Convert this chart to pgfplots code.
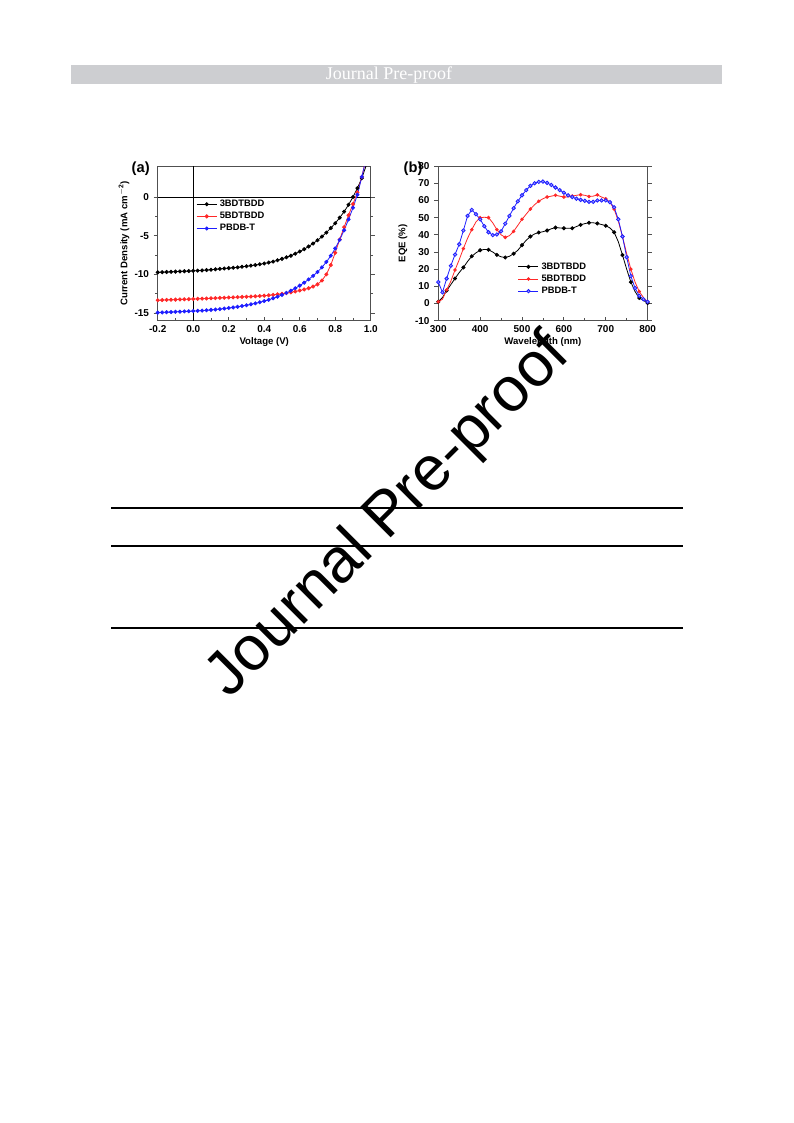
\documentclass[border=0pt]{standalone}
\usepackage{fontspec}
\setmainfont{Liberation Sans}
\newfontfamily\serifrm{Liberation Serif}
\usepackage{pgfplots}
\pgfplotsset{compat=1.18}
\definecolor{hdr}{RGB}{205,206,209}
\definecolor{axgray}{RGB}{80,80,80}
\definecolor{cred}{RGB}{255,40,40}
\definecolor{cblue}{RGB}{30,30,255}
\pgfplotsset{
  common/.style={
    scale only axis,
    axis line style={axgray, line width=0.8pt},
    every tick/.style={axgray, line width=0.6pt},
    /pgf/number format/assume math mode=true,
    tick label style={font=\fontsize{7.5}{8}\selectfont\bfseries},
    label style={font=\fontsize{7.2}{8}\selectfont\bfseries},
    xtick pos=bottom, ytick pos=both,
    xtick align=inside, ytick align=outside,
    major tick length=3pt, minor tick length=1.8pt,
    minor x tick num=1, minor y tick num=1,
    legend cell align=left,
    legend style={draw=none, fill=none, font=\fontsize{7}{8}\selectfont\bfseries,
      inner sep=0pt, row sep=-1.2pt},
    legend image code/.code={\draw[mark repeat=2,mark phase=2,#1] plot coordinates {(0pt,0pt) (7.5pt,0pt) (15pt,0pt)};},
  }
}
\begin{document}
\begin{tikzpicture}
\fill[white] (0pt,0pt) rectangle (594.75pt,842.25pt);
% header bar
\fill[hdr] (53.25pt,793.5pt) rectangle (541.5pt,779.25pt);
\node[white, font=\serifrm\fontsize{13.5}{14}\selectfont] at (291.75pt,786pt) {Journal Pre-proof};
% table rules
\draw[line width=1.3pt] (83.25pt,461.25pt) -- (512.25pt,461.25pt);
\draw[line width=1pt] (83.25pt,432.75pt) -- (512.25pt,432.75pt);
\draw[line width=1pt] (83.25pt,371.25pt) -- (512.25pt,371.25pt);

% chart (a)
\begin{axis}[common,
  at={(118.3pt,601.7pt)}, anchor=south west,
  width=159.75pt, height=116pt,
  xmin=-0.2, xmax=1.0, ymin=-16, ymax=4,
  xtick={-0.2,0,0.2,0.4,0.6,0.8,1.0},
  ytick={-15,-10,-5,0},
  xticklabel style={/pgf/number format/.cd, fixed, fixed zerofill, precision=1},
  xlabel={Voltage (V)}, ylabel={Current Density (mA cm$^{\mathbf{-2}}$)},
  xlabel style={yshift=3pt}, ylabel style={yshift=-3pt},
  legend style={at={(0.18,0.8)}, anchor=north west},
]
\addplot[black, line width=0.6pt, forget plot] coordinates {(-0.2,0) (1.0,0)};
\addplot[black, line width=0.6pt, forget plot] coordinates {(0,-16) (0,4)};
\addplot[black, line width=0.6pt, mark=*, mark size=1.2pt] coordinates {
(-0.2,-9.75) (-0.175,-9.73) (-0.15,-9.70) (-0.125,-9.68) (-0.1,-9.65) (-0.075,-9.63) (-0.05,-9.60) (-0.025,-9.58)
(0,-9.55) (0.025,-9.52) (0.05,-9.50) (0.075,-9.45) (0.1,-9.40) (0.125,-9.35) (0.15,-9.30) (0.175,-9.25)
(0.2,-9.20) (0.225,-9.15) (0.25,-9.10) (0.275,-9.02) (0.3,-8.95) (0.325,-8.88) (0.35,-8.80) (0.375,-8.70)
(0.4,-8.60) (0.425,-8.48) (0.45,-8.35) (0.475,-8.18) (0.5,-8.00) (0.525,-7.80) (0.55,-7.60) (0.575,-7.33)
(0.6,-7.05) (0.625,-6.75) (0.65,-6.40) (0.675,-6.02) (0.7,-5.60) (0.725,-5.12) (0.75,-4.60) (0.775,-4.02)
(0.8,-3.40) (0.825,-2.68) (0.85,-1.90) (0.875,-1.00) (0.9,0.00) (0.925,1.15) (0.95,2.45) (0.975,4.10)};
\addlegendentry{3BDTBDD}
\addplot[cred, line width=0.6pt, mark=*, mark size=1.2pt] coordinates {
(-0.2,-13.35) (-0.175,-13.33) (-0.15,-13.31) (-0.125,-13.29) (-0.1,-13.27) (-0.075,-13.25) (-0.05,-13.23) (-0.025,-13.21)
(0,-13.19) (0.025,-13.17) (0.05,-13.15) (0.075,-13.13) (0.1,-13.10) (0.125,-13.08) (0.15,-13.05) (0.175,-13.03)
(0.2,-13.00) (0.225,-12.98) (0.25,-12.95) (0.275,-12.92) (0.3,-12.90) (0.325,-12.87) (0.35,-12.84) (0.375,-12.80)
(0.4,-12.76) (0.425,-12.71) (0.45,-12.66) (0.475,-12.59) (0.5,-12.52) (0.525,-12.43) (0.55,-12.33) (0.575,-12.22)
(0.6,-12.10) (0.625,-11.96) (0.65,-11.80) (0.675,-11.58) (0.7,-11.30) (0.725,-10.80) (0.75,-10.00) (0.775,-8.80)
(0.8,-7.20) (0.825,-5.50) (0.85,-3.90) (0.875,-2.35) (0.9,-0.90) (0.925,0.60) (0.95,2.60) (0.965,4.10)};
\addlegendentry{5BDTBDD}
\addplot[cblue, line width=0.6pt, mark=*, mark size=1.2pt] coordinates {
(-0.2,-14.95) (-0.175,-14.93) (-0.15,-14.90) (-0.125,-14.88) (-0.1,-14.85) (-0.075,-14.83) (-0.05,-14.80) (-0.025,-14.78)
(0,-14.75) (0.025,-14.72) (0.05,-14.69) (0.075,-14.65) (0.1,-14.60) (0.125,-14.55) (0.15,-14.50) (0.175,-14.43)
(0.2,-14.36) (0.225,-14.28) (0.25,-14.20) (0.275,-14.10) (0.3,-14.00) (0.325,-13.88) (0.35,-13.75) (0.375,-13.61)
(0.4,-13.46) (0.425,-13.29) (0.45,-13.10) (0.475,-12.89) (0.5,-12.66) (0.525,-12.40) (0.55,-12.12) (0.575,-11.80)
(0.6,-11.46) (0.625,-11.08) (0.65,-10.66) (0.675,-10.20) (0.7,-9.70) (0.725,-9.10) (0.75,-8.40) (0.775,-7.60)
(0.8,-6.65) (0.825,-5.55) (0.85,-4.30) (0.875,-2.90) (0.9,-1.40) (0.925,0.30) (0.95,2.60) (0.965,4.10)};
\addlegendentry{PBDB-T}
\end{axis}
\node[font=\fontsize{11}{12}\selectfont\bfseries, anchor=west] at (95.25pt,715.5pt) {(a)};

% chart (b)
\begin{axis}[common,
  at={(328.7pt,601.7pt)}, anchor=south west,
  width=157pt, height=116pt,
  xmin=300, xmax=800, ymin=-10, ymax=80,
  xtick={300,400,500,600,700,800},
  ytick={-10,0,10,20,30,40,50,60,70,80},
  minor y tick num=0,
  xlabel={Wavelength (nm)}, ylabel={EQE (\%)},
  xlabel style={yshift=3pt}, ylabel style={yshift=-1pt},
  legend style={at={(0.38,0.395)}, anchor=north west},
]
\addplot[black, line width=0.6pt, mark=*, mark size=1.2pt, mark repeat=2] coordinates {
(300,1.0) (310,3.5) (320,7.5) (330,11.0) (340,14.6) (350,18.0) (360,21.0) (370,24.5) (380,27.5) (390,29.5)
(400,31.0) (410,31.5) (420,31.3) (430,30.0) (440,28.3) (450,27.2) (460,26.8) (470,27.5) (480,29.0) (490,31.0)
(500,34.0) (510,36.8) (520,39.0) (530,40.5) (540,41.3) (550,41.8) (560,42.5) (570,43.5) (580,44.2) (590,44.0)
(600,43.8) (610,43.8) (620,43.8) (630,44.8) (640,45.8) (650,46.5) (660,47.0) (670,47.0) (680,46.6) (690,46.0)
(700,45.3) (710,44.0) (720,41.5) (730,36.0) (740,28.2) (750,20.0) (760,12.5) (770,7.0) (780,3.2) (790,1.8) (800,0.3)};
\addlegendentry{3BDTBDD}
\addplot[cred, line width=0.6pt, mark=*, mark size=1.0pt, mark repeat=2] coordinates {
(300,1.0) (310,2.5) (320,8.0) (330,13.0) (340,19.5) (350,25.5) (360,32.0) (370,38.0) (380,43.0) (390,47.5)
(400,50.0) (410,50.2) (420,50.0) (430,47.0) (440,43.0) (450,40.0) (460,38.5) (470,39.5) (480,42.0) (490,45.5)
(500,49.0) (510,52.0) (520,55.0) (530,57.5) (540,59.5) (550,61.0) (560,62.0) (570,62.5) (580,63.0) (590,62.5)
(600,62.0) (610,62.0) (620,62.5) (630,63.0) (640,63.3) (650,63.0) (660,62.3) (670,62.5) (680,63.2) (690,62.0)
(700,61.0) (710,59.0) (720,55.0) (730,48.0) (740,39.0) (750,29.0) (760,20.0) (770,12.5) (780,7.0) (790,3.5) (800,1.0)};
\addlegendentry{5BDTBDD}
\addplot[cblue, line width=0.6pt, mark=*, mark size=1.3pt, mark options={fill=cblue!45}] coordinates {
(300,12.5) (310,6.5) (320,14.5) (330,22.0) (340,28.5) (350,34.5) (360,42.5) (370,51.0) (380,54.5) (390,52.0)
(400,49.0) (410,45.0) (420,41.5) (430,39.8) (440,40.2) (450,42.0) (460,46.5) (470,51.0) (480,55.5) (490,59.5)
(500,63.0) (510,66.0) (520,68.5) (530,70.0) (540,70.8) (550,71.0) (560,70.2) (570,69.0) (580,67.5) (590,66.0)
(600,64.5) (610,63.0) (620,62.0) (630,61.0) (640,60.3) (650,59.8) (660,59.2) (670,59.2) (680,60.0) (690,60.0)
(700,60.0) (710,59.0) (720,56.0) (730,49.0) (740,39.0) (750,27.0) (760,16.0) (770,9.0) (780,4.5) (790,2.5) (800,1.0)};
\addlegendentry{PBDB-T}
\end{axis}
\node[font=\fontsize{11}{12}\selectfont\bfseries, anchor=west] at (299.25pt,715.5pt) {(b)};

% watermark
\node[font=\fontsize{47}{52}\selectfont, anchor=base, rotate=45, inner sep=0pt] at (300.75pt,446.25pt) {Journal Pre-proof};
\end{tikzpicture}
\end{document}
